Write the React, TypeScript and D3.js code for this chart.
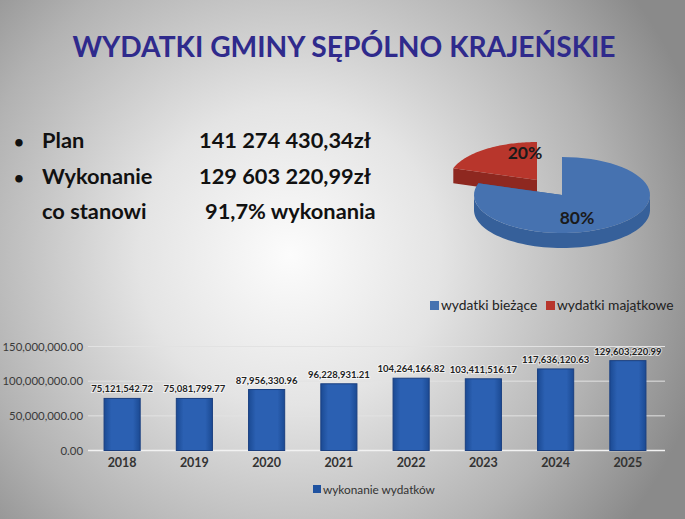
import React from "react";
import * as d3 from "d3";

const years = ["2018", "2019", "2020", "2021", "2022", "2023", "2024", "2025"];
const spending = [75121542.72, 75081799.77, 87956330.96, 96228931.21, 104264166.82, 103411516.17, 117636120.63, 129603220.99];
const spendingLabels = ["75,121,542.72", "75,081,799.77", "87,956,330.96", "96,228,931.21", "104,264,166.82", "103,411,516.17", "117,636,120.63", "129,603,220.99"];
const yTicks = [0, 50000000, 100000000, 150000000];

const pieLabels = ["wydatki bieżące", "wydatki majątkowe"];
const pieValues = [80, 20];
const pieText = ["80%", "20%"];

const W = 685, H = 519;
const FONT = "Lato, 'Open Sans', sans-serif";

export default function App() {
  const x = d3.scaleBand<string>().domain(years).range([86, 664]).paddingInner(0.5).paddingOuter(0.25);
  const y = d3.scaleLinear().domain([0, 150000000]).range([450.5, 346.5]);
  const fmt = d3.format(",.2f");

  // 3D pie
  const pie = d3.pie<number>().sort(null).startAngle(0).endAngle(2 * Math.PI);
  const arcs = pie(pieValues);
  const rx = 88, ry = 38, depth = 15;
  const centers = [
    { cx: 562, cy: 195 },
    { cx: 537, cy: 180 },
  ];
  const topColors = ["#4672b0", "#b8362c"];
  const sideColors = ["#36609a", "#8e2820"];
  const pt = (c: { cx: number; cy: number }, a: number, dy = 0) => [c.cx + rx * Math.sin(a), c.cy - ry * Math.cos(a) + dy];

  const slicePaths = arcs.map((a, i) => {
    const c = centers[i];
    const n = 60;
    const angs = d3.range(n + 1).map((k) => a.startAngle + ((a.endAngle - a.startAngle) * k) / n);
    const topPts = angs.map((t) => pt(c, t));
    const top = "M" + [[c.cx, c.cy], ...topPts].map((p) => p.join(",")).join("L") + "Z";
    const lo = Math.max(a.startAngle, Math.PI / 2);
    const hi = Math.min(a.endAngle, (3 * Math.PI) / 2);
    const walls: string[] = [];
    if (hi > lo) {
      const wa = d3.range(n + 1).map((k) => lo + ((hi - lo) * k) / n);
      const upper = wa.map((t) => pt(c, t));
      const lower = wa.slice().reverse().map((t) => pt(c, t, depth));
      walls.push("M" + [...upper, ...lower].map((p) => p.join(",")).join("L") + "Z");
    }
    [a.startAngle, a.endAngle].forEach((t) => {
      const p = pt(c, t);
      const q = [
        [c.cx, c.cy],
        p,
        [p[0], p[1] + depth],
        [c.cx, c.cy + depth],
      ];
      walls.push("M" + q.map((v) => v.join(",")).join("L") + "Z");
    });
    return { top, walls };
  });

  const order = [1, 0];

  return (
    <svg width={W} height={H} style={{ position: "absolute", left: 0, top: 0 }} fontFamily={FONT}>
      <defs>
        <radialGradient id="bg" cx="290" cy="255" r="430" gradientUnits="userSpaceOnUse">
          <stop offset="0" stopColor="#fcfcfc" />
          <stop offset="0.35" stopColor="#e4e4e4" />
          <stop offset="0.75" stopColor="#b2b2b2" />
          <stop offset="1" stopColor="#8a8a8a" />
        </radialGradient>
        <linearGradient id="bar" x1="0" x2="1" y1="0" y2="0">
          <stop offset="0" stopColor="#1b4a93" />
          <stop offset="0.2" stopColor="#2b60b2" />
          <stop offset="0.8" stopColor="#2b60b2" />
          <stop offset="1" stopColor="#1b4a93" />
        </linearGradient>
      </defs>
      <rect width={W} height={H} fill="url(#bg)" />

      <text x={344} y={57} textAnchor="middle" fontSize={28.2} fontWeight="bold" fill="#2f2a8c">
        WYDATKI GMINY SĘPÓLNO KRAJEŃSKIE
      </text>

      <g fontSize={21.8} fontWeight="bold" fill="#111">
        <text x={14} y={148} fontSize={17}>•</text>
        <text x={42} y={148}>Plan</text>
        <text x={199} y={148}>141 274 430,34zł</text>
        <text x={14} y={184} fontSize={17}>•</text>
        <text x={42} y={184}>Wykonanie</text>
        <text x={199} y={184}>129 603 220,99zł</text>
        <text x={42} y={219}>co stanowi</text>
        <text x={205} y={219}>91,7% wykonania</text>
      </g>

      {order.map((i) => (
        <g key={i}>
          {slicePaths[i].walls.map((d, k) => (
            <path key={k} d={d} fill={sideColors[i]} />
          ))}
          <path d={slicePaths[i].top} fill={topColors[i]} />
        </g>
      ))}
      <text x={577} y={224} textAnchor="middle" fontSize={17.5} fontWeight="bold" fill="#1a1a1a">{pieText[0]}</text>
      <text x={525} y={159} textAnchor="middle" fontSize={17.5} fontWeight="bold" fill="#1a1a1a">{pieText[1]}</text>

      <g fontSize={13.8} fill="#222">
        <rect x={430} y={301} width={9} height={9} fill={topColors[0]} />
        <text x={441} y={310}>{pieLabels[0]}</text>
        <rect x={546} y={301} width={9} height={9} fill={topColors[1]} />
        <text x={557} y={310}>{pieLabels[1]}</text>
      </g>

      {yTicks.map((t) => (
        <g key={t}>
          <line x1={88} x2={665} y1={y(t)} y2={y(t)} stroke={t === 0 ? "#f2f2f2" : "#e2e2e2"} strokeWidth={t === 0 ? 1.5 : 1} />
          <text x={83} y={y(t) + 4} textAnchor="end" fontSize={11.4} fill="#3a3a3a">{fmt(t)}</text>
        </g>
      ))}

      {years.map((yr, i) => (
        <g key={yr}>
          <rect x={x(yr)} y={y(spending[i])} width={x.bandwidth()} height={y(0) - y(spending[i])} fill="url(#bar)" stroke="#1a3f80" strokeWidth={1} />
          <text x={(x(yr) as number) + x.bandwidth() / 2} y={y(spending[i]) - 6} textAnchor="middle" fontSize={9.5} fontWeight="bold" fill="#222" stroke="#ffffff" strokeWidth={2} strokeOpacity={0.6} style={{ paintOrder: "stroke" }}>
            {spendingLabels[i]}
          </text>
          <text x={(x(yr) as number) + x.bandwidth() / 2} y={467} textAnchor="middle" fontSize={12.5} fontWeight="bold" fill="#333">{yr}</text>
        </g>
      ))}

      <rect x={313} y={485} width={8} height={8} fill="#1f52a0" />
      <text x={323} y={494} fontSize={11.8} fill="#333">wykonanie wydatków</text>
    </svg>
  );
}
